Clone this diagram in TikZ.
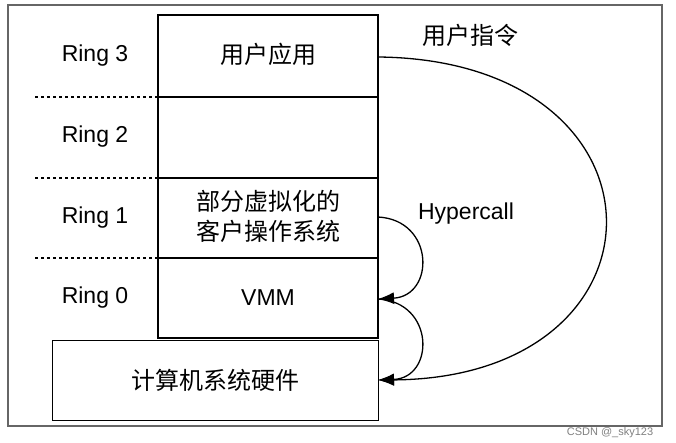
\documentclass[tikz,border=0pt]{standalone}
\usepackage{fontspec}
\setmainfont{Liberation Sans}
\newfontfamily\cjk{Noto Sans CJK SC}
\usetikzlibrary{arrows.meta}
\begin{document}
\begin{tikzpicture}[x=1pt,y=-1pt,
  lbl/.style={font=\fontsize{23}{26}\selectfont},
  zh/.style={font=\cjk\fontsize{24}{30}\selectfont,align=center},
  arc/.style={draw,line width=1.3pt,-{Latex[length=16pt,width=12pt]}}]
\useasboundingbox (0,0) rectangle (676,443);
\draw[gray!80!black,line width=1.2pt] (8,5) rectangle (662,426);
\draw[line width=1.2pt] (158,15) rectangle (378,338);
\draw[line width=1.2pt] (158,97) -- (378,97) (158,178) -- (378,178) (158,258) -- (378,258);
\draw[dashed,line width=1.2pt] (35,97) -- (158,97) (35,178) -- (158,178) (35,258) -- (158,258);
\node[draw,line width=1.2pt,minimum width=326pt,minimum height=80pt,anchor=north west,inner sep=0pt] (hw) at (52,340) {};
\node[zh] (hwl) at (215,380) {计算机系统硬件};
\node[lbl] (r3) at (95,56) {Ring 3};
\node[lbl] (r2) at (95,137) {Ring 2};
\node[lbl] (r1) at (95,218) {Ring 1};
\node[lbl] (r0) at (95,298) {Ring 0};
\node[zh] (app) at (268,54) {用户应用};
\node[zh] (os) at (268,216) {部分虚拟化的\\客户操作系统};
\node[lbl] (vmm) at (268,298) {VMM};
\node[zh] (cmd) at (470,35) {用户指令};
\node[lbl] (hc) at (466,214) {Hypercall};
\coordinate (a0) at (378,57);
\coordinate (a1) at (378,217);
\coordinate (a2) at (378,299);
\coordinate (a3) at (378,380);
\draw[arc] (a0) .. controls (680,60) and (680,378) .. (a3);
\draw[arc] (a1) .. controls (435,220) and (435,296) .. (a2);
\draw[arc] (a2) .. controls (435,302) and (435,378) .. (a3);
\node[text=gray,font=\fontsize{11}{12}\selectfont] (wm) at (610,433) {CSDN @\_sky123};
\end{tikzpicture}
\end{document}
